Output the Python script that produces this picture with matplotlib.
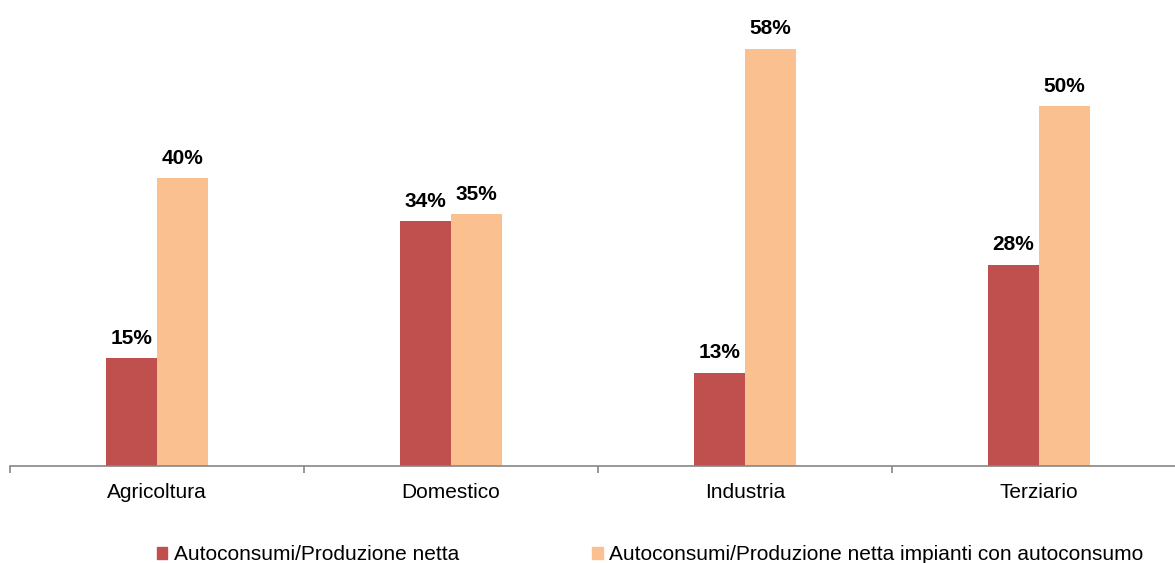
import numpy as np
import matplotlib.pyplot as plt
from matplotlib.patches import Patch

plt.rcParams['font.family'] = ['Liberation Sans', 'DejaVu Sans']

categories = ['Agricoltura', 'Domestico', 'Industria', 'Terziario']
autoconsumi = [15, 34, 13, 28]
autoconsumi_impianti = [40, 35, 58, 50]
series_names = ['Autoconsumi/Produzione netta',
                'Autoconsumi/Produzione netta impianti con autoconsumo']

red = '#C0504D'
orange = '#FAC090'

fig = plt.figure(figsize=(11.75, 5.63), dpi=100)
ax = fig.add_axes([10 / 1175, 97 / 563, 1 - 10 / 1175, 1 - 97 / 563])

x = np.arange(len(categories))
w = 0.173
b1 = ax.bar(x - w / 2, autoconsumi, w, color=red)
b2 = ax.bar(x + w / 2, autoconsumi_impianti, w, color=orange)

for bars, vals in ((b1, autoconsumi), (b2, autoconsumi_impianti)):
    for bar, v in zip(bars, vals):
        ax.annotate(f'{v}%', (bar.get_x() + bar.get_width() / 2, v),
                    xytext=(0, 10.5), textcoords='offset points',
                    ha='center', va='baseline', fontsize=15, fontweight='bold')

for s in ('left', 'right', 'top'):
    ax.spines[s].set_visible(False)
ax.spines['bottom'].set_color('#868686')
ax.spines['bottom'].set_linewidth(1.2)

ax.set_yticks([])
ax.set_xticks(np.arange(-0.5, len(categories), 1.0))
ax.set_xticklabels([])
ax.tick_params(axis='x', which='major', length=5, width=1.2, color='#868686', direction='out')
ax.set_xticks(x, minor=True)
ax.set_xticklabels(categories, minor=True, fontsize=15)
ax.tick_params(axis='x', which='minor', length=0, pad=12.5)

# limits after the ticks, set_xticks would widen them
ax.set_xlim(-0.5, 3.463)
ax.set_ylim(0, 64.8)

handles = [Patch(color=red), Patch(color=orange)]
fig.legend(handles, series_names, loc='center', bbox_to_anchor=(650 / 1175, 1 - 555 / 563),
           ncol=2, frameon=False, fontsize=15, handlelength=0.5, handleheight=0.5,
           handletextpad=0.3, columnspacing=6.4)

fig.savefig('out.png', dpi=100)
